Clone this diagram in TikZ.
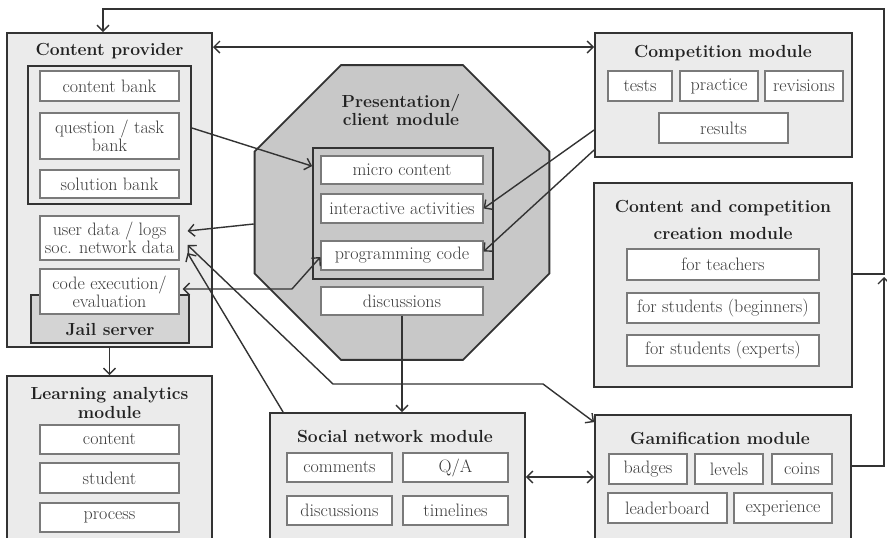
\documentclass[tikz,border=0pt]{standalone}
\usepackage{fontspec}
\usetikzlibrary{arrows.meta,shapes.geometric}
\definecolor{modfill}{HTML}{EBEBEB}
\definecolor{octfill}{HTML}{C8C8C8}
\definecolor{jailfill}{HTML}{D4D4D4}
\definecolor{dk}{HTML}{333333}
\definecolor{itb}{HTML}{7A7A7A}
\definecolor{itt}{HTML}{3C3C3C}
\definecolor{ttlc}{HTML}{222222}
\newcommand\bx[7]{\node[#1, minimum width={(#4)-(#2)}, minimum height={(#5)-(#3)}] (#6) at ({((#2)+(#4))/2},{((#3)+(#5))/2}) {#7};}
\begin{document}
\begin{tikzpicture}[x=1pt,y=-1pt,
  >={Straight Barb[length=6pt,width=12pt]},
  module/.style={draw=dk,line width=1.8pt,fill=modfill,inner sep=0pt},
  grp/.style={draw=dk,line width=1.8pt,fill=modfill,inner sep=0pt},
  item/.style={draw=itb,line width=1.1pt,fill=white,text=itt,font=\fontsize{18}{18}\selectfont,align=center,inner sep=0pt},
  ttl/.style={text=ttlc,font=\bfseries\fontsize{17.5}{19}\selectfont,align=center,inner sep=0pt},
  conn/.style={draw=dk,line width=1.4pt},
]
\clip (0,0) rectangle (887,538);
\fill[white] (0,0) rectangle (887,538);

% Content provider
\bx{module}{7}{33}{212}{347}{cp}{}
\node[ttl] (cpt) at (109.5,51) {Content provider};
\bx{grp}{28}{66}{191}{204}{bank}{}
\bx{item}{40}{71}{179}{101}{cb}{content bank}
\bx{item}{40}{113}{179}{159}{qb}{question / task\\bank}
\bx{item}{40}{170}{179}{198}{sb}{solution bank}
\bx{item}{40}{216}{179}{260}{ud}{user data / logs\\soc. network data}
\bx{grp,fill=jailfill}{31}{295}{189}{343}{jail}{}
\node[ttl] (jailt) at (110,330) {Jail server};
\bx{item}{40}{269}{179}{314}{ce}{code execution/\\evaluation}

% Learning analytics
\bx{module}{7}{376}{212}{545}{la}{}
\node[ttl] (lat) at (109.5,402.5) {Learning analytics\\module};
\bx{item}{40}{425}{179}{454}{lac}{content}
\bx{item}{40}{463}{179}{493}{las}{student}
\bx{item}{40}{503}{179}{532}{lap}{process}

% Presentation / client module
\node[regular polygon, regular polygon sides=8, minimum size=319pt, draw=dk, line width=1.8pt, fill=octfill, inner sep=0pt] (oct) at (402,212.5) {};
\node[ttl,font=\bfseries\fontsize{17.5}{18}\selectfont] (octt) at (401,110) {Presentation/\\client module};
\bx{grp,fill=octfill}{313}{148}{493}{279}{pg}{}
\bx{item}{321}{156}{483}{184}{mc}{micro content}
\bx{item}{321}{194}{483}{223}{ia}{interactive activities}
\bx{item}{321}{241}{483}{270}{pc}{programming code}
\bx{item}{321}{287}{483}{315}{od}{discussions}

% Competition module
\bx{module}{595}{33}{852}{157}{comp}{}
\node[ttl] (compt) at (723,53) {Competition module};
\bx{item}{608}{71}{672}{101}{tests}{tests}
\bx{item}{680}{71}{758}{101}{prac}{practice}
\bx{item}{765}{71}{843}{101}{rev}{revisions}
\bx{item}{659}{113}{788}{143}{res}{results}

% Content and competition creation module
\bx{module}{594}{183}{852}{387}{cre}{}
\node[ttl,font=\bfseries\fontsize{17.5}{27}\selectfont] (cret) at (723,219.5) {Content and competition\\creation module};
\bx{item}{627}{249}{819}{280}{ft}{for teachers}
\bx{item}{627}{293}{819}{323}{fb}{for students (beginners)}
\bx{item}{627}{335}{819}{366}{fe}{for students (experts)}

% Gamification module
\bx{module}{595}{415}{851}{545}{gam}{}
\node[ttl] (gamt) at (720,438) {Gamification module};
\bx{item}{609}{454}{687}{484}{bad}{badges}
\bx{item}{695}{454}{763}{484}{lev}{levels}
\bx{item}{772}{454}{832}{484}{coi}{coins}
\bx{item}{608}{493}{727}{523}{lead}{leaderboard}
\bx{item}{734}{493}{832}{523}{exp}{experience}

% Social network module
\bx{module}{270}{413}{525}{545}{sn}{}
\node[ttl] (snt) at (395,436) {Social network module};
\bx{item}{287}{453}{392}{482}{com}{comments}
\bx{item}{403}{453}{508}{482}{qa}{Q/A}
\bx{item}{287}{496}{392}{525}{sdi}{discussions}
\bx{item}{403}{496}{508}{525}{tim}{timelines}

% connectors
\coordinate (j) at (884,274);
\coordinate (tr) at (884,9);
\coordinate (tlc) at (103,9);
\coordinate (bend1) at (292,289);
\coordinate (b2) at (333,384);
\coordinate (b3) at (543,384);
\draw[conn,->] ([yshift=14pt]gam.east) -| ([yshift=-3pt]j);
\draw[conn,->] ([yshift=11pt]cre.east) -- (j) -- (tr) -- (tlc) -- (tlc |- cp.north);
\draw[conn,<->] ([yshift=-15pt]cp.north east) -- ([yshift=-15pt]comp.north west);
\draw[conn,->] ([yshift=7pt]bank.east) -- ([yshift=-19pt]pg.north west);
\draw[conn,->] ([yshift=-35pt]comp.west) -- (ia.east);
\draw[conn,->] ([yshift=-55pt]comp.west) -- ([yshift=4pt]pc.east);
\draw[conn,->] ([yshift=-11.5pt]oct.west) -- ([xshift=8pt,yshift=7pt]ud.east);
\draw[conn,<->] ([xshift=3pt,yshift=2.5pt]ce.east) -- (bend1) -- ([yshift=-1.5pt]pc.west);
\draw[conn,->] (od.south) -- (od.south |- sn.north);
\draw[conn,->] ([xshift=14pt]sn.north west) -- ([xshift=8pt,yshift=-15pt]ud.east);
\draw[conn,<->] ([xshift=8pt,yshift=-7pt]ud.east) -- (b2) -- (b3) -- ([yshift=-8pt]gam.north west);
\draw[conn,->] (cp.south) -- (la.north);
\draw[conn,<->] ([yshift=2pt]sn.east) -- ([yshift=3pt]gam.west);
\end{tikzpicture}
\end{document}
